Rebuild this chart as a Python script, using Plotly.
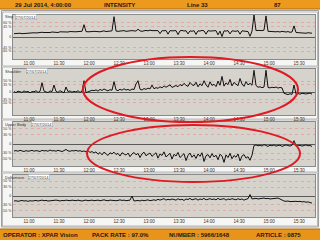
import pandas as pd
import plotly.graph_objects as go

# ---------------- data ----------------
start_time = "2014-07-27 10:45"
step_minutes = 2

step_vals = [14,15,13,16,14,15,17,15,16,17,
             18,17,19,18,20,19,18,20,19,21,
             20,21,19,22,21,20,22,21,23,22,
             21,22,23,22,24,52,23,22,24,23,
             24,23,25,22,24,26,23,25,24,26,
             86,25,24,26,25,27,24,26,25,27,
             26,25,33,26,24,27,28,26,29,27,
             28,26,27,14,27,26,28,12,27,26,
             25,27,10,26,28,25,27,13,26,24,
             27,11,26,25,28,26,12,27,25,26,
             24,27,9,25,2,26,25,27,13,26,
             25,24,27,12,26,25,24,23,3,25,
             93,27,28,26,27,29,89,24,23,25,
             24,22,23,21,24,22,21,23,20,21,
             47,19,18,17,18,17,16,18,17,16]

shoulder_vals = [2,-3,4,1,-2,5,0,3,-4,2,
                 1,6,-2,3,43,4,0,-3,5,2,
                 32,3,-2,6,1,-4,23,2,5,-1,
                 3,0,6,-2,4,52,-3,2,5,8,
                 6,10,4,12,7,14,9,5,11,8,
                 48,10,6,13,8,15,9,12,7,14,
                 11,37,52,13,9,16,12,18,14,32,
                 15,20,17,24,19,28,22,26,33,21,
                 27,30,24,35,28,40,31,26,44,33,
                 30,45,24,38,29,52,33,22,47,30,
                 36,25,50,31,72,27,42,34,58,28,
                 44,35,29,62,37,26,48,33,40,31,
                 100,30,22,24,20,23,100,21,19,22,
                 20,23,18,21,19,-6,-10,-12,-8,-11,
                 32,-9,-7,-10,-6,-8,-9,-7,-5,-10]

upper_vals = [-23,-22,-24,-21,-23,-25,-22,-24,-23,-21,
              -24,-22,-23,-25,-21,-23,-22,-24,-20,-23,
              -22,-24,-21,-23,-25,-22,-18,-23,-24,-22,
              -23,-21,-24,-22,-25,-23,-26,-22,-28,-25,
              -30,-26,-34,-28,-36,-27,-32,-38,-29,-33,
              -27,-35,-31,-40,-29,-34,-37,-30,-42,-33,
              -28,-36,-31,-45,-33,-27,-39,-34,-30,-41,
              -35,-29,-47,-33,-38,-26,-43,-36,-31,-50,
              -34,-40,-28,-45,-37,-32,-55,-38,-30,-44,
              -36,-48,-33,-41,-29,-58,-39,-35,-46,-32,
              -43,-37,-52,-34,-40,-61,-36,-45,-31,-49,
              -38,-44,-33,-56,-40,-35,-47,-42,-54,-37,
              -5,-3,-6,-4,-7,-2,-5,-8,-4,-6,
              -3,-7,-5,-4,-8,-6,-3,-5,-7,-4,
              11,-5,-6,-4,-7,-5,-3,-6,-5,-8]

delta_vals = [-17,-16,-18,-17,-15,-17,-16,-18,-16,-17,
              -16,-15,-17,-16,-14,-16,-15,-17,-16,-15,
              -16,-14,-15,-17,-15,-16,-14,-15,-16,-14,
              -15,-16,-14,-15,-17,-15,-14,-16,-15,-14,
              -16,-15,-14,-16,-15,-13,-15,-16,-14,-15,
              -14,-16,-15,-13,-15,-14,-16,-15,-14,0,
              -17,-16,-15,-17,-14,-16,-15,-13,-16,-14,
              -13,-15,-11,-14,-12,-9,-14,-11,-13,-10,
              -12,-14,-9,-13,-11,-15,-10,-12,-8,-13,
              -11,-9,-14,-10,-12,-8,-13,-11,-9,-12,
              -10,-13,-8,-12,-11,-9,-14,-10,-12,-9,
              -11,-13,-9,-12,-10,-14,-11,-9,5,-10,
              -9,-8,-10,-9,-8,-7,-9,-8,-10,-9,
              -8,-9,-7,-10,-15,-17,-18,-17,-19,-18,
              -17,-18,-19,-18,-20,-19,-21,-20,-22,-24]

panel_names = ["Step", "Shoulder", "Upper Body", "Deltamove"]
panel_date = "27/07/2014"
panel_ticks = [[-60, -45, 0, 45, 60],
               [-50, -35, 0, 35, 50],
               [-50, -30, 0, 30, 50],
               [-50, -30, 0, 30, 50]]
panel_ranges = [93, 106, 73, 71]

x_ticks = ["11:00", "11:30", "12:00", "12:30", "13:00",
           "13:30", "14:00", "14:30", "15:00", "15:30"]
x_range = ["2014-07-27 10:44", "2014-07-27 15:46"]

header_texts = ["29 Jul 2014, 4:00:00", "INTENSITY", "Line 33", "87"]
footer_texts = ["OPERATOR : XPAR Vision", "PACK RATE : 97.0%",
                "NUMBER : 5966/1648", "ARTICLE : 0875"]

# ---------------- layout helpers ----------------
W, H = 320, 240
FONT = "Liberation Sans"

def py(p):  # pixel from top -> paper y
    return 1 - p / H

def px(p):
    return p / W

plot_rows = [(15, 59), (69, 115), (122, 166), (175, 217)]
panel_boxes = [(11, 66), (66, 119), (119, 172), (172, 226)]
x_dom = [px(13), px(315)]

series = [step_vals, shoulder_vals, upper_vals, delta_vals]

fig = go.Figure()
layout = dict(width=W, height=H, margin=dict(l=0, r=0, t=0, b=0),
              paper_bgcolor="#f6f6f4", plot_bgcolor="#d6d3cc",
              showlegend=False, font=dict(family=FONT, size=4, color="#333"))

shapes = []
annotations = []

# header and footer bars
shapes.append(dict(type="rect", xref="paper", yref="paper", x0=0, x1=1,
                   y0=py(9), y1=1, fillcolor="#eb9a1e", line=dict(width=0), layer="below"))
shapes.append(dict(type="line", xref="paper", yref="paper", x0=0, x1=1,
                   y0=py(9), y1=py(9), line=dict(color="#b06a10", width=1)))
shapes.append(dict(type="rect", xref="paper", yref="paper", x0=0, x1=1,
                   y0=0, y1=py(229), fillcolor="#e8931a", line=dict(width=0), layer="below"))
shapes.append(dict(type="line", xref="paper", yref="paper", x0=0, x1=1,
                   y0=py(229), y1=py(229), line=dict(color="#b06a10", width=1)))

for txt, cx in zip(header_texts, [43, 119, 197, 277]):
    annotations.append(dict(text="<b>" + txt + "</b>", xref="paper", yref="paper",
                            x=px(cx), y=py(4.5), showarrow=False, xanchor="center",
                            yanchor="middle", font=dict(size=6, color="#1a1a1a", family=FONT)))
for txt, cx in zip(footer_texts, [40, 120, 199, 278]):
    annotations.append(dict(text="<b>" + txt + "</b>", xref="paper", yref="paper",
                            x=px(cx), y=py(234.5), showarrow=False, xanchor="center",
                            yanchor="middle", font=dict(size=6, color="#1a1a1a", family=FONT)))

# outer frame
shapes.append(dict(type="rect", xref="paper", yref="paper", x0=px(1.5), x1=px(318.5),
                   y0=py(227), y1=py(10.5), line=dict(color="#a0a0a0", width=1), layer="below"))

for k in range(4):
    n = len(series[k])
    times = pd.date_range(start_time, periods=n, freq=f"{step_minutes}min")
    xa = "x" if k == 0 else f"x{k+1}"
    ya = "y" if k == 0 else f"y{k+1}"
    fig.add_trace(go.Scatter(x=times, y=series[k], mode="lines",
                             line=dict(color="#111111", width=1),
                             xaxis=xa, yaxis=ya, hoverinfo="skip"))
    top, bot = plot_rows[k]
    r = panel_ranges[k]
    xkey = "xaxis" if k == 0 else f"xaxis{k+1}"
    ykey = "yaxis" if k == 0 else f"yaxis{k+1}"
    layout[xkey] = dict(domain=x_dom, anchor=ya, type="date", range=x_range,
                        tickvals=[f"2014-07-27 {t}" for t in x_ticks], ticktext=x_ticks,
                        showgrid=False, zeroline=False, ticks="", ticklen=0,
                        tickfont=dict(size=4.5, color="#333"), showline=True, mirror=True,
                        linecolor="#8a8a8a", linewidth=1)
    tv = panel_ticks[k]
    layout[ykey] = dict(domain=[py(bot), py(top)], anchor=xa, range=[-r, r],
                        tickvals=tv, ticktext=[("0" if v == 0 else f"{v} %") for v in tv],
                        showgrid=True, gridcolor="#e2a9a9", gridwidth=1, griddash="dot",
                        zeroline=True, zerolinecolor="#5a5a5a", zerolinewidth=1,
                        ticks="", tickfont=dict(size=3.5, color="#333"),
                        showline=True, mirror=True, linecolor="#8a8a8a", linewidth=1,
                        fixedrange=True)
    # panel frame
    b0, b1 = panel_boxes[k]
    shapes.append(dict(type="rect", xref="paper", yref="paper", x0=px(2.5), x1=px(317.5),
                       y0=py(b1), y1=py(b0 + 1), line=dict(color="#b8b8b8", width=1), layer="below"))
    # panel label
    annotations.append(dict(text=panel_names[k], xref="paper", yref="paper", x=px(3),
                            y=py(top + 2), showarrow=False, xanchor="left", yanchor="middle",
                            font=dict(size=4, color="#333", family=FONT)))
    annotations.append(dict(text=panel_date, xref="paper", yref="paper",
                            x=px(5 + 2.6 * len(panel_names[k])), y=py(top + 2),
                            showarrow=False, xanchor="left", yanchor="middle",
                            bgcolor="#ffffff", bordercolor="#9a9a9a", borderwidth=0.5, borderpad=0,
                            font=dict(size=4, color="#333", family=FONT)))

# red ellipses highlighting regions
shapes.append(dict(type="circle", xref="paper", yref="paper", x0=px(83), x1=px(298),
                   y0=py(122), y1=py(57), line=dict(color="#e01a22", width=2)))
shapes.append(dict(type="circle", xref="paper", yref="paper", x0=px(87), x1=px(300),
                   y0=py(182), y1=py(125), line=dict(color="#e01a22", width=2)))

layout["shapes"] = shapes
layout["annotations"] = annotations
fig.update_layout(**layout)
fig.write_html("out.html", config={"displayModeBar": False})
